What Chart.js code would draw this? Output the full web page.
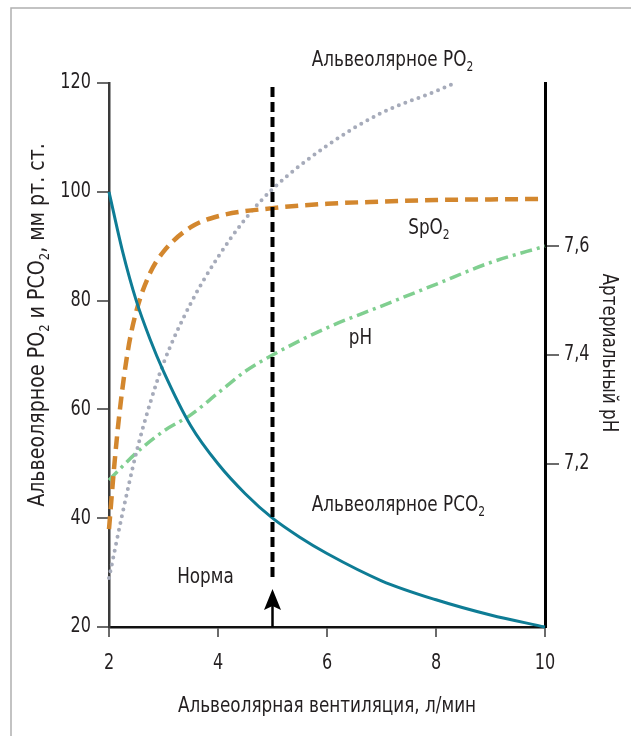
<!DOCTYPE html>
<html>
<head>
<meta charset="utf-8">
<script src="https://cdn.jsdelivr.net/npm/chart.js@4.4.1/dist/chart.umd.min.js"></script>
<style>
  html, body { margin: 0; padding: 0; background: #fff; }
  canvas { display: block; }
</style>
</head>
<body>
<canvas id="ventChart" width="631" height="736"></canvas>
<script>
// Alveolar ventilation (l/min) on x
const pco2Vent = [2, 2.25, 2.5, 2.75, 3, 3.5, 4, 4.5, 5, 5.5, 6, 7, 8, 9, 10];
const pco2 = [100, 89, 80, 73, 67, 57, 50, 44.5, 40, 36.5, 33.5, 28.5, 25, 22.2, 20];

const spo2Vent = [2, 2.1, 2.2, 2.35, 2.5, 2.75, 3, 3.5, 4, 5, 6, 7, 8, 9, 10];
const spo2 = [38, 50, 60, 71, 78, 85, 89, 93.5, 95.5, 97, 97.8, 98.2, 98.5, 98.6, 98.7];

const po2Vent = [2, 2.25, 2.5, 2.75, 3, 3.5, 4, 4.5, 5, 6, 7, 8, 8.35];
const po2 = [29, 41, 52, 61, 68.5, 79.5, 88, 95, 100.5, 108.5, 114.5, 118.5, 120];

const phVent = [2, 2.5, 3, 3.5, 4, 4.5, 5, 6, 7, 8, 9, 10];
const ph = [7.17, 7.22, 7.26, 7.29, 7.33, 7.37, 7.40, 7.45, 7.49, 7.53, 7.57, 7.60];

// Normal ventilation marker
const normaVent = 5;
const normaRange = [29.2, 119.6];

const phTicks = [7.2, 7.4, 7.6];

const FONT = "'DejaVu Sans Condensed', 'DejaVu Sans', sans-serif";
const TEXT = '#231f20';
const NARROW = 0.85;   // squeeze the text a little, like the condensed original

// text with subscript parts: [[text, isSub], ...]
function richWidth(ctx, parts, size) {
    let w = 0;
    parts.forEach(p => {
        ctx.font = (p[1] ? Math.round(size * 0.62) : size) + 'px ' + FONT;
        w += ctx.measureText(p[0]).width;
    });
    return w;
}

function drawRich(ctx, parts, x, y, size, sx, align) {
    const w = richWidth(ctx, parts, size);
    let cx = 0;
    if (align === 'center') cx = -w / 2;
    if (align === 'right') cx = -w;
    ctx.save();
    ctx.translate(x, y);
    ctx.scale(sx, 1);
    ctx.textAlign = 'left';
    ctx.textBaseline = 'middle';
    parts.forEach(p => {
        const sub = p[1];
        ctx.font = (sub ? Math.round(size * 0.62) : size) + 'px ' + FONT;
        ctx.fillText(p[0], cx, sub ? size * 0.34 : 0);
        cx += ctx.measureText(p[0]).width;
    });
    ctx.restore();
}

function plain(text) {
    return [[text, 0]];
}

const labels = [
    { parts: [['Альвеолярное PO', 0], ['2', 1]], x: 5.72, y: 124.2 },
    { parts: [['SpO', 0], ['2', 1]], x: 7.49, y: 93.3 },
    { parts: [['pH', 0]], x: 6.4, y: 73.1 },
    { parts: [['Альвеолярное PCO', 0], ['2', 1]], x: 5.72, y: 42.4 },
    { parts: [['Норма', 0]], x: 3.25, y: 29.2 }
];

const decorPlugin = {
    id: 'decor',
    afterDraw(chart) {
        const ctx = chart.ctx;
        const xs = chart.scales.x;
        const ys = chart.scales.y;
        const ys1 = chart.scales.y1;
        const area = chart.chartArea;
        ctx.save();

        // outer frame
        ctx.strokeStyle = '#b0b0b0';
        ctx.lineWidth = 1.5;
        ctx.beginPath();
        ctx.moveTo(11, 736);
        ctx.lineTo(11, 8);
        ctx.lineTo(631, 8);
        ctx.stroke();

        ctx.fillStyle = TEXT;

        // tick labels, placed by the chart's scales
        xs.ticks.forEach(t => {
            drawRich(ctx, plain(String(t.value)), xs.getPixelForValue(t.value), area.bottom + 37, 21, NARROW, 'center');
        });
        ys.ticks.forEach(t => {
            drawRich(ctx, plain(String(t.value)), area.left - 18, ys.getPixelForValue(t.value), 21, NARROW, 'right');
        });
        ys1.ticks.forEach(t => {
            const txt = t.value.toFixed(1).replace('.', ',');
            drawRich(ctx, plain(txt), area.right + 19, ys1.getPixelForValue(t.value), 21, NARROW, 'left');
        });

        // annotations
        labels.forEach(l => {
            drawRich(ctx, l.parts, xs.getPixelForValue(l.x), ys.getPixelForValue(l.y), 22, NARROW, 'left');
        });

        // x title
        drawRich(ctx, plain('Альвеолярная вентиляция, л/мин'), (area.left + area.right) / 2, 706, 22, NARROW, 'center');

        // left title
        const leftParts = [['Альвеолярное PO', 0], ['2', 1], [' и PCO', 0], ['2', 1], [', мм рт. ст.', 0]];
        ctx.save();
        ctx.translate(38, 325);
        ctx.rotate(-Math.PI / 2);
        drawRich(ctx, leftParts, 0, 0, 23, 0.92, 'center');
        ctx.restore();

        // right title
        ctx.save();
        ctx.translate(609, 353);
        ctx.rotate(Math.PI / 2);
        drawRich(ctx, plain('Артериальный pH'), 0, 0, 22, NARROW, 'center');
        ctx.restore();

        // arrow at normal ventilation
        const ax = xs.getPixelForValue(normaVent);
        const ab = area.bottom;
        ctx.strokeStyle = '#000';
        ctx.fillStyle = '#000';
        ctx.lineWidth = 2.5;
        ctx.beginPath();
        ctx.moveTo(ax, ab);
        ctx.lineTo(ax, ab - 22);
        ctx.stroke();
        ctx.beginPath();
        ctx.moveTo(ax, ab - 38);
        ctx.lineTo(ax - 8.5, ab - 17);
        ctx.lineTo(ax, ab - 21);
        ctx.lineTo(ax + 8.5, ab - 17);
        ctx.closePath();
        ctx.fill();

        ctx.restore();
    }
};

const tickMarks = { drawOnChartArea: false, tickColor: '#6b6b6b', lineWidth: 2 };

new Chart(document.getElementById('ventChart'), {
    type: 'line',
    data: {
        datasets: [
            {
                label: 'Норма',
                data: [{ x: normaVent, y: normaRange[0] }, { x: normaVent, y: normaRange[1] }],
                borderColor: '#000',
                borderWidth: 4,
                borderDash: [10, 5],
                pointRadius: 0
            },
            {
                label: 'PCO2',
                data: pco2Vent.map((x, i) => ({ x: x, y: pco2[i] })),
                borderColor: '#0e7c95',
                borderWidth: 3,
                pointRadius: 0,
                cubicInterpolationMode: 'monotone'
            },
            {
                label: 'SpO2',
                data: spo2Vent.map((x, i) => ({ x: x, y: spo2[i] })),
                borderColor: '#d3872e',
                borderWidth: 4.5,
                borderDash: [13, 7],
                pointRadius: 0,
                cubicInterpolationMode: 'monotone'
            },
            {
                label: 'PO2',
                data: po2Vent.map((x, i) => ({ x: x, y: po2[i] })),
                borderColor: '#a6abba',
                borderWidth: 4,
                borderDash: [0, 7],
                borderCapStyle: 'round',
                pointRadius: 0,
                cubicInterpolationMode: 'monotone'
            },
            {
                label: 'pH',
                data: phVent.map((x, i) => ({ x: x, y: ph[i] })),
                yAxisID: 'y1',
                borderColor: '#80cf90',
                borderWidth: 3.5,
                borderDash: [12, 5, 3, 5],
                pointRadius: 0,
                cubicInterpolationMode: 'monotone'
            }
        ]
    },
    options: {
        responsive: false,
        animation: false,
        clip: 6,
        layout: { padding: { top: 83, left: 0, right: 0, bottom: 0 } },
        plugins: {
            legend: { display: false },
            tooltip: { enabled: false }
        },
        scales: {
            x: {
                type: 'linear',
                min: 2,
                max: 10,
                afterFit: s => { s.height = 109; },
                ticks: { stepSize: 2, display: false },
                grid: Object.assign({ tickLength: 10 }, tickMarks),
                border: { color: '#111', width: 2.5 }
            },
            y: {
                position: 'left',
                min: 20,
                max: 120,
                afterFit: s => { s.width = 109; },
                ticks: { stepSize: 20, display: false },
                grid: Object.assign({ tickLength: 12 }, tickMarks),
                border: { color: '#3a3a3a', width: 2.5 }
            },
            y1: {
                position: 'right',
                min: 6.9,
                max: 7.9,
                afterFit: s => { s.width = 86; },
                afterBuildTicks: s => { s.ticks = phTicks.map(v => ({ value: v })); },
                ticks: { display: false },
                grid: Object.assign({ tickLength: 14 }, tickMarks),
                border: { color: '#000', width: 3 }
            }
        }
    },
    plugins: [decorPlugin]
});
</script>
</body>
</html>
